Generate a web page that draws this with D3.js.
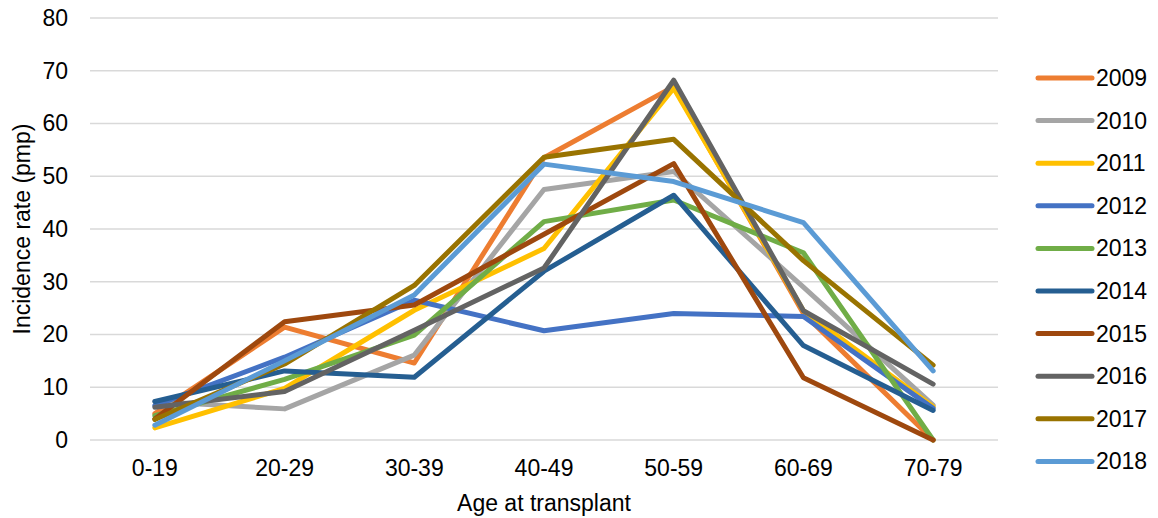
<!DOCTYPE html>
<html>
<head>
<meta charset="utf-8">
<script src="https://cdn.jsdelivr.net/npm/d3@7"></script>
<style>
  body { margin: 0; background: #fff; }
  text { font-family: "Liberation Sans", Arial, sans-serif; fill: #000; }
</style>
</head>
<body>
<svg id="chart"></svg>
<script>
var ageGroups = ['0-19', '20-29', '30-39', '40-49', '50-59', '60-69', '70-79'];
var years = ['2009', '2010', '2011', '2012', '2013', '2014', '2015', '2016', '2017', '2018'];
var yTicks = [0, 10, 20, 30, 40, 50, 60, 70, 80];

var v2009 = [5.0, 21.4, 14.6, 53.5, 67.0, 24.0, 0];
var v2010 = [7.3, 5.9, 16.1, 47.5, 50.9, 29.0, 6.6];
var v2011 = [2.3, 9.8, 24.6, 36.3, 66.7, 24.5, 6.3];
var v2012 = [6.5, 15.7, 26.5, 20.7, 24.0, 23.4, 6.0];
var v2013 = [4.6, 11.5, 19.9, 41.4, 45.5, 35.5, 0];
var v2014 = [7.3, 13.1, 11.9, 32.0, 46.4, 17.9, 5.6];
var v2015 = [4.0, 22.4, 25.6, 39.0, 52.4, 11.8, 0];
var v2016 = [6.2, 9.2, 20.8, 32.6, 68.2, 24.5, 10.6];
var v2017 = [3.9, 14.4, 29.3, 53.6, 57.0, 34.0, 14.2];
var v2018 = [2.8, 15.0, 27.5, 52.3, 49.0, 41.2, 13.1];

var colors = ['#ED7D31', '#A5A5A5', '#FFC000', '#4472C4', '#70AD47',
              '#255E91', '#9E480E', '#636363', '#997300', '#5B9BD5'];

var seriesValues = [v2009, v2010, v2011, v2012, v2013, v2014, v2015, v2016, v2017, v2018];
var series = years.map((yr, i) => ({ year: yr, values: seriesValues[i], color: colors[i] }));

var width = 1158;
var height = 518;
var plotLeft = 90, plotRight = 998, plotTop = 18, plotBottom = 440;

var svg = d3.select('#chart')
    .attr('width', width)
    .attr('height', height);

var x = d3.scaleBand()
    .domain(ageGroups)
    .range([plotLeft, plotRight]);

var y = d3.scaleLinear()
    .domain([0, 80])
    .range([plotBottom, plotTop]);

// gridlines
svg.append('g')
  .selectAll('line')
  .data(yTicks)
  .enter()
  .append('line')
    .attr('x1', plotLeft)
    .attr('x2', plotRight)
    .attr('y1', d => y(d))
    .attr('y2', d => y(d))
    .attr('stroke', '#d9d9d9')
    .attr('stroke-width', 1.3);

// y axis labels
var yAxis = svg.append('g')
    .attr('transform', 'translate(' + plotLeft + ',0)')
    .call(d3.axisLeft(y).tickValues(yTicks).tickSize(0).tickPadding(22));
yAxis.select('.domain').remove();
yAxis.selectAll('text')
    .style('font-size', '23px')
    .style('font-family', '"Liberation Sans", Arial, sans-serif')
    .attr('fill', '#000');

// x axis labels
var xAxis = svg.append('g')
    .attr('transform', 'translate(0,' + plotBottom + ')')
    .call(d3.axisBottom(x).tickSize(0).tickPadding(20));
xAxis.select('.domain').remove();
xAxis.selectAll('text')
    .style('font-size', '23px')
    .style('font-family', '"Liberation Sans", Arial, sans-serif')
    .attr('fill', '#000');

// axis titles
svg.append('text')
    .attr('x', (plotLeft + plotRight) / 2)
    .attr('y', 511)
    .attr('text-anchor', 'middle')
    .style('font-size', '23px')
    .text('Age at transplant');

svg.append('text')
    .attr('transform', 'translate(30,' + (plotTop + plotBottom) / 2 + ') rotate(-90)')
    .attr('text-anchor', 'middle')
    .style('font-size', '23px')
    .text('Incidence rate (pmp)');

// lines
var line = d3.line()
    .x((d, i) => x(ageGroups[i]) + x.bandwidth() / 2)
    .y(d => y(d));

svg.append('g')
  .selectAll('path')
  .data(series)
  .enter()
  .append('path')
    .attr('d', d => line(d.values))
    .attr('fill', 'none')
    .attr('stroke', d => d.color)
    .attr('stroke-width', 5)
    .attr('stroke-linejoin', 'round')
    .attr('stroke-linecap', 'round');

// legend
var legend = svg.append('g')
  .selectAll('g')
  .data(series)
  .enter()
  .append('g')
    .attr('transform', (d, i) => 'translate(1038,' + (78 + i * 42.6) + ')');

legend.append('line')
    .attr('x1', 0)
    .attr('x2', 54)
    .attr('stroke', d => d.color)
    .attr('stroke-width', 5)
    .attr('stroke-linecap', 'round');

legend.append('text')
    .attr('x', 58)
    .attr('dy', '0.35em')
    .style('font-size', '23px')
    .text(d => d.year);
</script>
</body>
</html>
